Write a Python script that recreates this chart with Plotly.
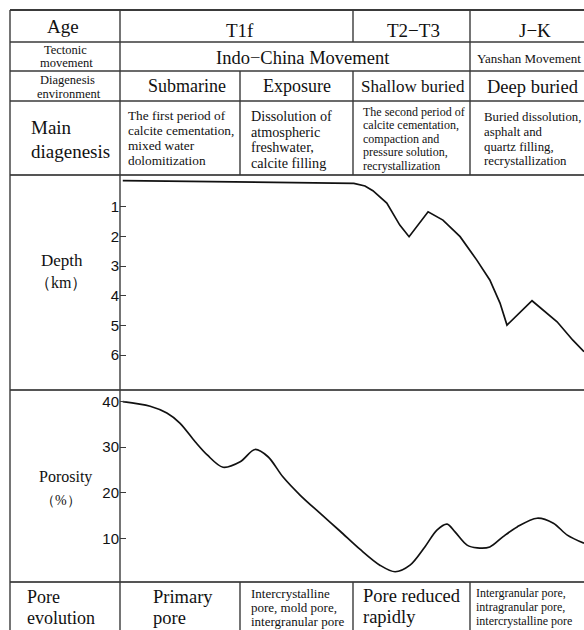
import plotly.graph_objects as go

# ---- data (relative geological time 0-100 along the section) ----
depth_time = [0.6, 36.6, 50.4, 52.8, 54.5, 57.5, 60.3, 62.3, 66.4, 69.6, 73.3, 76.9, 79.7, 81.9, 83.4, 88.8, 94.2, 97.6, 100]
depth_km = [0.12, 0.19, 0.21, 0.30, 0.46, 0.88, 1.62, 2.01, 1.17, 1.45, 2.01, 2.8, 3.47, 4.25, 4.99, 4.17, 4.88, 5.5, 5.89]

poro_time = [0.6, 6.5, 10.1, 12.9, 16.2, 18.8, 22.2, 25.9, 29.1, 31.9, 35.1, 38.8, 43.1, 47.4, 51.7, 56.0, 59.3,
             62.5, 65.7, 68.3, 70.5, 72.2, 74.8, 77.0, 79.7, 82.5, 85.6, 89.9, 93.4, 96.4, 100]
porosity = [40.0, 39.0, 37.5, 35.3, 31.2, 28.3, 25.6, 26.8, 29.5, 27.9, 23.5, 19.5, 15.5, 11.6, 7.6, 4.1, 2.65,
            4.1, 8.1, 11.8, 13.1, 11.4, 8.5, 7.9, 8.1, 10.3, 12.5, 14.4, 13.3, 10.7, 8.9]

depth_ticks = [1, 2, 3, 4, 5, 6]
poro_ticks = [10, 20, 30, 40]

ages = ["T1f", "T2−T3", "J−K"]
tectonic = ["Indo−China Movement", "Yanshan Movement"]
environments = ["Submarine", "Exposure", "Shallow buried", "Deep buried"]

W, H = 584, 630
def X(px): return px / W
def Y(py): return 1 - py / H

SERIF = "Liberation Serif, Times New Roman, serif"
SANS = "Liberation Sans, Arial, sans-serif"
LC = "#3a3a3a"

fig = go.Figure()
fig.add_trace(go.Scatter(x=depth_time, y=depth_km, mode="lines", line=dict(color="#111", width=1.7),
                         xaxis="x", yaxis="y", showlegend=False, hoverinfo="skip"))
fig.add_trace(go.Scatter(x=poro_time, y=porosity, mode="lines", line=dict(color="#111", width=1.7, shape="spline", smoothing=0.9),
                         xaxis="x2", yaxis="y2", showlegend=False, hoverinfo="skip"))

shapes = []
def hline(py, x0=10, x1=584, w=1.6, c=LC):
    shapes.append(dict(type="line", xref="paper", yref="paper", x0=X(x0), x1=X(x1), y0=Y(py), y1=Y(py),
                       line=dict(color=c, width=w)))
def vline(px, y0, y1, w=1.4, c=LC):
    shapes.append(dict(type="line", xref="paper", yref="paper", x0=X(px), x1=X(px), y0=Y(y0), y1=Y(y1),
                       line=dict(color=c, width=w)))

hline(10, w=1.8)
hline(42); hline(71); hline(101)
hline(175, w=2, c="#555")
hline(390, w=2, c="#555")
hline(582, w=1.8, c="#555")
vline(10, 10, 630)
vline(120, 10, 630)
vline(353, 10, 42); vline(353, 71, 175); vline(353, 582, 630)
vline(470, 10, 175); vline(470, 582, 630)
vline(240, 71, 175); vline(240, 582, 630)

ann = []
def txt(s, px, py, size, anchor="center", font=SERIF, color="#111"):
    ann.append(dict(text=s, x=X(px), y=Y(py), xref="paper", yref="paper", showarrow=False,
                    xanchor=anchor, yanchor="middle", font=dict(family=font, size=size, color=color)))

# header rows
txt("Age", 63, 27, 19)
txt(ages[0], 240, 30, 19)
txt(ages[1], 413, 30, 19)
txt(ages[2], 535, 30, 19)
txt("Tectonic", 65, 50, 12.5); txt("movement", 66, 63, 12.5)
txt(tectonic[0], 303, 58, 18.5)
txt(tectonic[1], 529, 58, 13)
txt("Diagenesis", 67, 80, 12.5); txt("environment", 69, 94, 12.5)
txt(environments[0], 187, 86, 18)
txt(environments[1], 297, 86, 18)
txt(environments[2], 413, 87, 17)
txt(environments[3], 533, 87, 18.5)

# main diagenesis row
txt("Main", 29, 128, 19, "left"); txt("diagenesis", 29, 151, 19, "left")
for i, s in enumerate(["The first period of", "calcite cementation,", "mixed water", "dolomitization"]):
    txt(s, 126, 115 + 15.2 * i, 13.3, "left")
for i, s in enumerate(["Dissolution of", "atmospheric", "freshwater,", "calcite filling"]):
    txt(s, 249, 116 + 15.7 * i, 14.2, "left")
for i, s in enumerate(["The second period of", "calcite cementation,", "compaction and", "pressure solution,", "recrystallization"]):
    txt(s, 361, 112 + 13.4 * i, 12, "left")
for i, s in enumerate(["Buried dissolution,", "asphalt and", "quartz filling,", "recrystallization"]):
    txt(s, 482, 117 + 14.8 * i, 12.8, "left")

# side labels
txt("Depth", 62, 260, 17); txt("（km）", 61, 282, 16)
txt("Porosity", 65, 477, 16); txt("（%）", 61, 500, 14)

# pore evolution row
txt("Pore", 25, 597, 18, "left"); txt("evolution", 25, 618, 18, "left")
txt("Primary", 151, 597, 18.5, "left"); txt("pore", 151, 618, 18.5, "left")
for i, s in enumerate(["Intercrystalline", "pore, mold pore,", "intergranular pore"]):
    txt(s, 249, 593 + 14 * i, 13, "left")
txt("Pore reduced", 361, 596, 18.5, "left"); txt("rapidly", 361, 617, 18.5, "left")
for i, s in enumerate(["Intergranular pore,", "intragranular pore,", "intercrystalline pore"]):
    txt(s, 474, 593 + 14 * i, 12, "left")

axis_common = dict(showgrid=False, zeroline=False)
fig.update_layout(
    width=W, height=H, margin=dict(l=0, r=0, t=0, b=0),
    paper_bgcolor="white", plot_bgcolor="white",
    xaxis=dict(domain=[X(120), 1], range=[0, 100], visible=False, anchor="y", **axis_common),
    yaxis=dict(domain=[Y(390), Y(175)], range=[7.18, -0.07], tickvals=depth_ticks, ticks="inside", ticklen=6,
               tickcolor=LC, showline=False, tickfont=dict(family=SANS, size=15, color="#111"),
               anchor="x", **axis_common),
    xaxis2=dict(domain=[X(120), 1], range=[0, 100], visible=False, anchor="y2", **axis_common),
    yaxis2=dict(domain=[Y(582), Y(390)], range=[0.4, 42.56], tickvals=poro_ticks, ticks="inside", ticklen=6,
                tickcolor=LC, showline=False, tickfont=dict(family=SANS, size=15, color="#111"),
                anchor="x2", **axis_common),
    shapes=shapes, annotations=ann,
)
fig.write_html("out.html", config={"displayModeBar": False},
               post_script="document.body.style.margin='0px';document.body.style.overflow='hidden';")
